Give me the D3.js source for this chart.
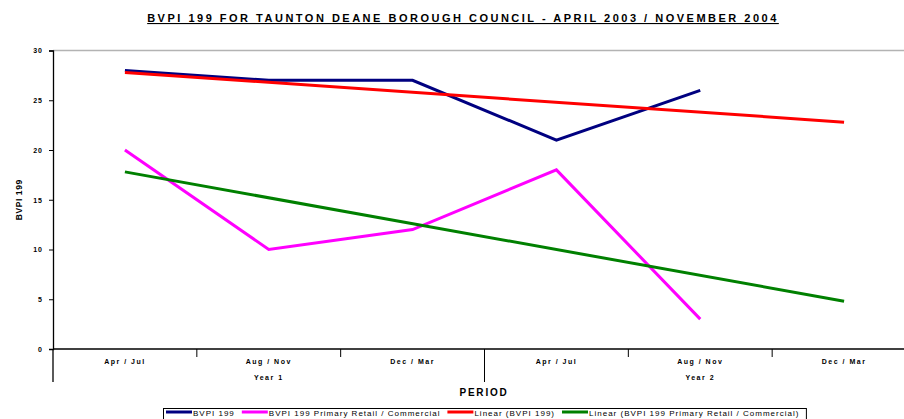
<!DOCTYPE html>
<meta charset="utf-8">
<script src="https://cdn.jsdelivr.net/npm/d3@7"></script>
<style>
  body { margin: 0; background: #fff; }
  text { font-family: "Liberation Sans", Arial, sans-serif; font-weight: bold; }
</style>
<div id="my_dataviz"></div>
<script>
// categories along the x axis
var periods = ["Apr / Jul", "Aug / Nov", "Dec / Mar", "Apr / Jul", "Aug / Nov", "Dec / Mar"];
var years = ["Year 1", "Year 2"];
var yTicks = [0, 5, 10, 15, 20, 25, 30];

// series values (one per period, last period empty)
var bvpi = [28, 27, 27, 21, 26];
var bvpiRetail = [20, 10, 12, 18, 3];

// trend lines as shown on the chart (value at first and last period)
var trendBvpi = [27.8, 22.8];
var trendRetail = [17.8, 4.8];

var seriesNames = ["BVPI 199", "BVPI 199 Primary Retail / Commercial",
                   "Linear (BVPI 199)", "Linear (BVPI 199 Primary Retail / Commercial)"];
var seriesColors = ["#000080", "#FF00FF", "#FF0000", "#008000"];

var W = 904, H = 419;
var margin = {left: 53, right: 916, top: 50.5, bottom: 349};

var svg = d3.select("#my_dataviz")
  .append("svg")
    .attr("width", W)
    .attr("height", H);

var x = d3.scaleBand()
  .domain(d3.range(periods.length))
  .range([margin.left, margin.right]);

var y = d3.scaleLinear()
  .domain([0, 30])
  .range([margin.bottom, margin.top]);

function cx(i) { return x(i) + x.bandwidth() / 2; }

// title
svg.append("text")
  .attr("x", 463)
  .attr("y", 22)
  .attr("text-anchor", "middle")
  .attr("font-size", "11px")
  .attr("letter-spacing", "2.5px")
  .attr("text-decoration", "underline")
  .text("BVPI 199 FOR TAUNTON DEANE BOROUGH COUNCIL - APRIL 2003 / NOVEMBER 2004");

// top gridline
svg.append("line")
  .attr("x1", margin.left).attr("x2", W)
  .attr("y1", y(30)).attr("y2", y(30))
  .attr("stroke", "#b3b3b3")
  .attr("stroke-width", 1.5);

// y axis
var yAxis = svg.append("g")
  .attr("transform", "translate(" + margin.left + ",0)")
  .call(d3.axisLeft(y).tickValues(yTicks).tickSize(4).tickPadding(6));
yAxis.select(".domain").attr("stroke", "#000").attr("stroke-width", 1.3);
yAxis.selectAll(".tick line").attr("stroke", "#000");
yAxis.selectAll("text")
  .attr("font-size", "7px")
  .attr("letter-spacing", "1px")
  .attr("fill", "#000")
  .style("font-family", "Liberation Sans, Arial, sans-serif")
  .style("font-weight", "bold");

svg.append("text")
  .attr("transform", "translate(22," + ((margin.top + margin.bottom) / 2) + ") rotate(-90)")
  .attr("text-anchor", "middle")
  .attr("font-size", "8.5px")
  .attr("letter-spacing", "0.6px")
  .text("BVPI 199");

// x axis line
svg.append("line")
  .attr("x1", margin.left).attr("x2", W)
  .attr("y1", margin.bottom).attr("y2", margin.bottom)
  .attr("stroke", "#000")
  .attr("stroke-width", 1.3);

// category separators
svg.selectAll(".sep")
  .data(d3.range(1, periods.length))
  .enter()
  .append("line")
    .attr("x1", function(d) { return x(d); })
    .attr("x2", function(d) { return x(d); })
    .attr("y1", margin.bottom)
    .attr("y2", function(d) { return d % 3 === 0 ? 382 : 357; })
    .attr("stroke", "#000")
    .attr("stroke-width", 1);

svg.append("line")
  .attr("x1", margin.left).attr("x2", margin.left)
  .attr("y1", margin.bottom).attr("y2", 382)
  .attr("stroke", "#000").attr("stroke-width", 1.3);

svg.selectAll(".cat")
  .data(periods)
  .enter()
  .append("text")
    .attr("x", function(d, i) { return cx(i); })
    .attr("y", 364)
    .attr("text-anchor", "middle")
    .attr("font-size", "7px")
    .attr("letter-spacing", "1.5px")
    .text(function(d) { return d; });

svg.selectAll(".year")
  .data(years)
  .enter()
  .append("text")
    .attr("x", function(d, i) { return (x(i * 3) + x(i * 3 + 2) + x.bandwidth()) / 2; })
    .attr("y", 380)
    .attr("text-anchor", "middle")
    .attr("font-size", "7px")
    .attr("letter-spacing", "1.5px")
    .text(function(d) { return d; });

svg.append("text")
  .attr("x", 484)
  .attr("y", 396)
  .attr("text-anchor", "middle")
  .attr("font-size", "10px")
  .attr("letter-spacing", "1.8px")
  .text("PERIOD");

// lines
var line = d3.line()
  .x(function(d) { return cx(d[0]); })
  .y(function(d) { return y(d[1]); });

var series = [
  { vals: bvpi.map(function(v, i) { return [i, v]; }), color: seriesColors[0] },
  { vals: bvpiRetail.map(function(v, i) { return [i, v]; }), color: seriesColors[1] },
  { vals: [[0, trendBvpi[0]], [periods.length - 1, trendBvpi[1]]], color: seriesColors[2] },
  { vals: [[0, trendRetail[0]], [periods.length - 1, trendRetail[1]]], color: seriesColors[3] }
];

svg.selectAll(".series")
  .data(series)
  .enter()
  .append("path")
    .attr("d", function(d) { return line(d.vals); })
    .attr("fill", "none")
    .attr("stroke", function(d) { return d.color; })
    .attr("stroke-width", 3)
    .attr("stroke-linejoin", "miter");

// legend
var lg = svg.append("g");
var lx = 166;
seriesNames.forEach(function(name, i) {
  lg.append("line")
    .attr("x1", lx).attr("x2", lx + 26)
    .attr("y1", 412).attr("y2", 412)
    .attr("stroke", seriesColors[i])
    .attr("stroke-width", 3);
  var t = lg.append("text")
    .attr("x", lx + 27)
    .attr("y", 416)
    .attr("font-size", "8px")
    .attr("letter-spacing", "1px")
    .style("font-weight", "normal")
    .text(name);
  lx += 27 + t.node().getComputedTextLength() + 7;
});
lg.insert("rect", ":first-child")
  .attr("x", 163.5)
  .attr("y", 408.5)
  .attr("width", lx - 163.5)
  .attr("height", 20)
  .attr("fill", "#fff")
  .attr("stroke", "#000")
  .attr("stroke-width", 1);

</script>
